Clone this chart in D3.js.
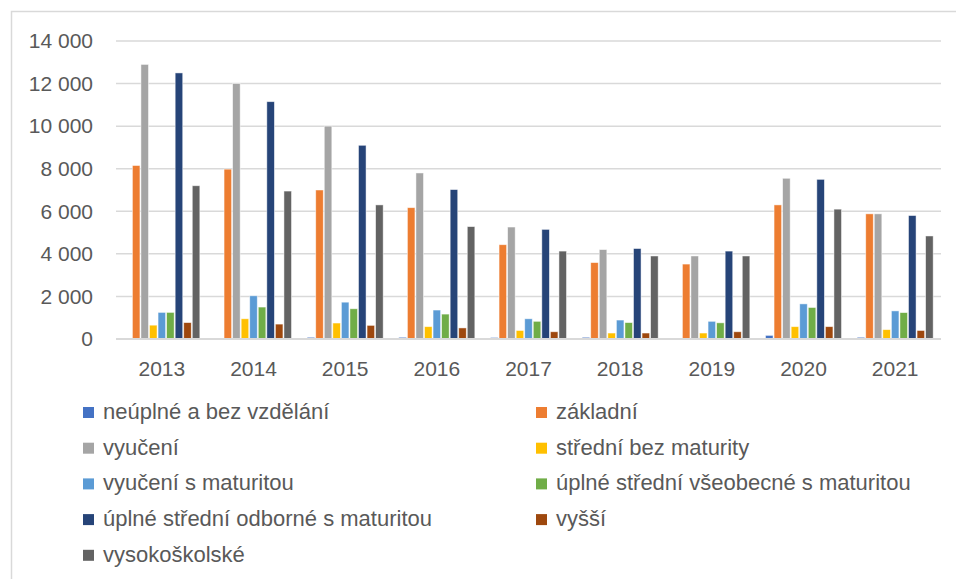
<!DOCTYPE html>
<html>
<head>
<meta charset="utf-8">
<script src="https://cdn.jsdelivr.net/npm/d3@7"></script>
<style>
  html, body { margin: 0; padding: 0; background: #fff; }
  svg { display: block; }
  text { font-family: "Liberation Sans", Arial, sans-serif; fill: #595959; }
</style>
</head>
<body>
<svg id="chart" width="956" height="579"></svg>
<script>
// ---- data ----
const years = ["2013", "2014", "2015", "2016", "2017", "2018", "2019", "2020", "2021"];
const seriesNames = [
  "neúplné a bez vzdělání",
  "základní",
  "vyučení",
  "střední bez maturity",
  "vyučení s maturitou",
  "úplné střední všeobecné s maturitou",
  "úplné střední odborné s maturitou",
  "vyšší",
  "vysokoškolské"
];
const seriesColors = ["#4472C4", "#ED7D31", "#A5A5A5", "#FFC000", "#5B9BD5", "#70AD47", "#264478", "#9E480E", "#636363"];

const neuplne      = [0, 0, 80, 80, 70, 80, 0, 170, 80];
const zakladni     = [8150, 7980, 7000, 6170, 4430, 3590, 3520, 6300, 5880];
const vyuceni      = [12900, 12000, 10000, 7800, 5260, 4200, 3900, 7550, 5880];
const stredniBez   = [650, 950, 750, 580, 400, 280, 280, 580, 440];
const vyucMat      = [1250, 2030, 1730, 1360, 950, 890, 830, 1650, 1320];
const uplneVseob   = [1250, 1500, 1420, 1170, 830, 770, 760, 1480, 1240];
const uplneOdb     = [12500, 11150, 9100, 7020, 5150, 4250, 4130, 7500, 5800];
const vyssi        = [770, 700, 640, 520, 340, 280, 340, 580, 400];
const vysokoskolske= [7200, 6950, 6300, 5280, 4130, 3900, 3900, 6100, 4840];

const seriesValues = [neuplne, zakladni, vyuceni, stredniBez, vyucMat, uplneVseob, uplneOdb, vyssi, vysokoskolske];
const yTicks = [0, 2000, 4000, 6000, 8000, 10000, 12000, 14000];

// ---- layout ----
const svg = d3.select("#chart");
const plot = { left: 116, right: 941, top: 41, bottom: 339 };

// border of chart area
svg.append("path")
  .attr("d", `M11.5,579 L11.5,11.5 L956,11.5`)
  .attr("fill", "none").attr("stroke", "#d9d9d9").attr("stroke-width", 1.5);

const y = d3.scaleLinear().domain([0, 14000]).range([plot.bottom, plot.top]);
const x0 = d3.scaleBand().domain(years).range([plot.left, plot.right]).paddingInner(0.16).paddingOuter(0.08);
const x1 = d3.scaleBand().domain(seriesNames).range([0, x0.bandwidth()]);

const loc = d3.formatLocale({ decimal: ",", thousands: "\u00a0", grouping: [3], currency: ["", ""] });
const fmt = loc.format(",d");

// gridlines
svg.append("g").selectAll("line").data(yTicks.filter(d => d > 0)).join("line")
  .attr("x1", plot.left).attr("x2", plot.right)
  .attr("y1", d => y(d)).attr("y2", d => y(d))
  .attr("stroke", "#d9d9d9").attr("stroke-width", 1.5);

// y axis labels
const yAxis = d3.axisLeft(y).tickValues(yTicks).tickFormat(fmt).tickSize(0).tickPadding(23);
const gy = svg.append("g").attr("transform", `translate(${plot.left},0)`).call(yAxis);
gy.select(".domain").remove();
gy.selectAll("text").style("font-size", "21px").attr("fill", "#595959").style("font-family", "'Liberation Sans', Arial, sans-serif");

// bars
const groups = svg.append("g").selectAll("g").data(years).join("g")
  .attr("transform", d => `translate(${x0(d)},0)`);
groups.selectAll("rect")
  .data((yr, i) => seriesNames.map((s, j) => ({ s, j, v: seriesValues[j][i] })))
  .join("rect")
  .attr("x", d => x1(d.s) + 0.5)
  .attr("width", x1.bandwidth() - 1)
  .attr("y", d => y(d.v))
  .attr("height", d => y(0) - y(d.v))
  .attr("fill", d => seriesColors[d.j])
  .attr("stroke", "#ffffff").attr("stroke-width", 0.8).attr("stroke-opacity", 0.6);

// x axis line
svg.append("line")
  .attr("x1", plot.left).attr("x2", plot.right)
  .attr("y1", y(0)).attr("y2", y(0))
  .attr("stroke", "#d9d9d9").attr("stroke-width", 2);

// x axis labels
const xAxis = d3.axisBottom(x0).tickSize(0).tickPadding(22);
const gx = svg.append("g").attr("transform", `translate(0,${plot.bottom})`).call(xAxis);
gx.select(".domain").remove();
gx.selectAll("text").style("font-size", "21px").attr("fill", "#595959").style("font-family", "'Liberation Sans', Arial, sans-serif");

// legend
const legend = svg.append("g");
const colX = [83, 536];
const rowY0 = 407, rowStep = 35.7;
seriesNames.forEach((name, i) => {
  const col = i % 2, row = Math.floor(i / 2);
  const g = legend.append("g").attr("transform", `translate(${colX[col]},${rowY0 + row * rowStep})`);
  g.append("rect").attr("width", 11).attr("height", 11).attr("fill", seriesColors[i]);
  g.append("text").attr("x", 20).attr("y", 12).style("font-size", "22px").text(name);
});
</script>
</body>
</html>
